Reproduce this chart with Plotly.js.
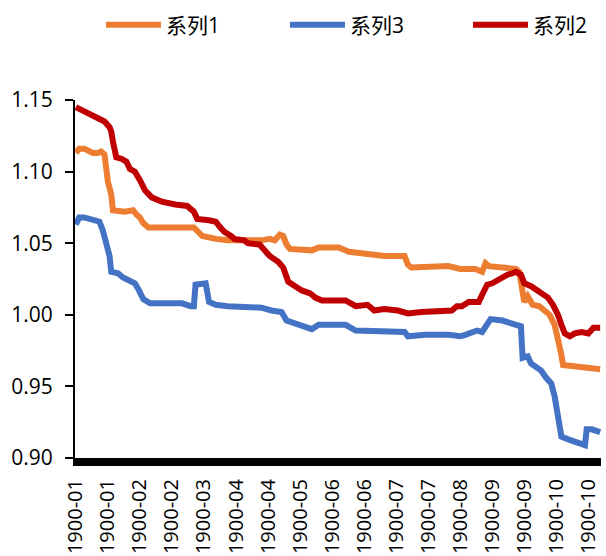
<!DOCTYPE html>
<html>
<head>
<meta charset="utf-8">
<script src="https://cdn.plot.ly/plotly-3.0.1.min.js"></script>
<style>
html,body{margin:0;padding:0;background:#fff;}
#chart{width:606px;height:556px;}
</style>
</head>
<body>
<div id="chart"></div>
<script>
// Category index (day number) on the x axis; tick labels shown every 19 categories
const tickLabels = ["1900-01","1900-01","1900-02","1900-02","1900-03","1900-04","1900-04","1900-05",
  "1900-06","1900-06","1900-07","1900-07","1900-08","1900-09","1900-09","1900-10","1900-10"];
const tickDays = [1,20,39,58,77,96,115,134,153,172,191,210,229,248,267,286,305];

// 系列1 (orange)
const s1Days = [1,3,6,8,11,14,16,18,19,20,22,23,30,35,37,39,41,44,71,73,76,84,91,111,116,119,122,124,126,128,137,141,145,157,163,169,178,184,196,198,200,216,222,229,238,242,244,246,254,262,264,266,267,269,272,276,279,282,285,287,289,290,297,305,312];
const s1Vals = [1.113,1.116,1.116,1.115,1.113,1.113,1.114,1.112,1.103,1.093,1.084,1.073,1.072,1.073,1.070,1.068,1.064,1.061,1.061,1.058,1.055,1.053,1.052,1.052,1.053,1.052,1.056,1.055,1.049,1.046,1.046,1.045,1.047,1.047,1.044,1.043,1.042,1.041,1.041,1.035,1.033,1.033,1.034,1.032,1.032,1.030,1.036,1.034,1.033,1.032,1.030,1.018,1.009,1.013,1.007,1.006,1.003,1.000,0.993,0.984,0.972,0.965,0.964,0.963,0.962];

// 系列3 (blue)
const s3Days = [1,3,6,10,15,17,19,21,22,26,29,33,36,38,41,45,64,69,71,72,78,80,84,91,101,111,117,123,126,131,137,141,145,152,161,167,178,196,198,208,222,229,232,236,239,242,244,247,254,261,265,266,269,271,274,277,280,283,285,287,289,293,303,304,307,312];
const s3Vals = [1.063,1.068,1.068,1.067,1.065,1.059,1.050,1.041,1.030,1.029,1.026,1.024,1.022,1.018,1.011,1.008,1.008,1.006,1.006,1.021,1.022,1.009,1.007,1.006,1.006,1.005,1.003,1.002,0.996,0.994,0.992,0.990,0.993,0.993,0.993,0.989,0.989,0.988,0.985,0.986,0.986,0.985,0.986,0.988,0.989,0.988,0.992,0.997,0.996,0.994,0.992,0.970,0.971,0.966,0.964,0.961,0.956,0.952,0.943,0.929,0.915,0.913,0.909,0.920,0.920,0.918];

// 系列2 (dark red)
const s2Days = [1,6,14,18,21,22,23,24,25,28,31,33,36,39,42,46,52,60,67,71,73,80,84,86,89,93,95,101,103,110,113,116,121,124,127,131,135,140,143,147,152,155,161,167,174,178,184,192,198,206,224,227,230,234,240,242,245,248,251,254,257,260,262,265,267,271,275,278,281,284,287,289,291,294,297,301,305,308,312];
const s2Vals = [1.145,1.142,1.138,1.135,1.131,1.128,1.121,1.115,1.110,1.109,1.107,1.102,1.100,1.094,1.087,1.082,1.079,1.077,1.076,1.072,1.067,1.066,1.065,1.062,1.058,1.055,1.053,1.052,1.050,1.049,1.045,1.041,1.037,1.033,1.023,1.020,1.017,1.015,1.012,1.010,1.010,1.011,1.010,1.006,1.007,1.003,1.004,1.003,1.001,1.002,1.003,1.006,1.006,1.009,1.009,1.014,1.021,1.022,1.024,1.027,1.028,1.029,1.030,1.028,1.022,1.020,1.017,1.015,1.012,1.007,1.000,0.993,0.987,0.985,0.987,0.988,0.987,0.991,0.991];

const FONT = '"Open Sans", "Noto Sans CJK SC", sans-serif';

const traces = [
  {x: s1Days, y: s1Vals, name: '系列1', type: 'scatter', mode: 'lines', legend: 'legend',
   line: {color: '#ED7D31', width: 6}},
  {x: s3Days, y: s3Vals, name: '系列3', type: 'scatter', mode: 'lines', legend: 'legend2',
   line: {color: '#4472C4', width: 6}},
  {x: s2Days, y: s2Vals, name: '系列2', type: 'scatter', mode: 'lines', legend: 'legend3',
   line: {color: '#C00000', width: 6}}
];

function legendAt(xFrac) {
  return {
    orientation: 'h', x: xFrac, xanchor: 'left',
    y: 0.955, yref: 'container', yanchor: 'middle',
    font: {family: FONT, size: 21, color: '#000'},
    itemwidth: 55, bgcolor: 'rgba(0,0,0,0)'
  };
}

const layout = {
  width: 606, height: 556,
  margin: {l: 75, r: 5, t: 100, b: 98, autoexpand: false},
  paper_bgcolor: '#fff', plot_bgcolor: '#fff',
  font: {family: FONT, size: 21, color: '#000'},
  showlegend: true,
  legend: legendAt(0.0494),
  legend2: legendAt(0.3992),
  legend3: legendAt(0.7471),
  xaxis: {
    range: [0.5, 312.5], showgrid: false, zeroline: false,
    showline: true, linecolor: '#000', linewidth: 8,
    tickmode: 'array', tickvals: tickDays, ticktext: tickLabels,
    tickangle: -90, ticks: '', ticklabelstandoff: 5,
    tickfont: {family: FONT, size: 20, color: '#000'}, automargin: false
  },
  yaxis: {
    range: [0.90, 1.15], dtick: 0.05, tick0: 0.90, tickformat: '.2f',
    showgrid: false, zeroline: false,
    showline: true, linecolor: '#000', linewidth: 2,
    ticks: 'outside', ticklen: 8, tickwidth: 2, tickcolor: '#000',
    ticklabelstandoff: 8,
    tickfont: {family: FONT, size: 21, color: '#000'}, automargin: false
  }
};

Plotly.newPlot('chart', traces, layout, {displayModeBar: false, staticPlot: true});
</script>
</body>
</html>
